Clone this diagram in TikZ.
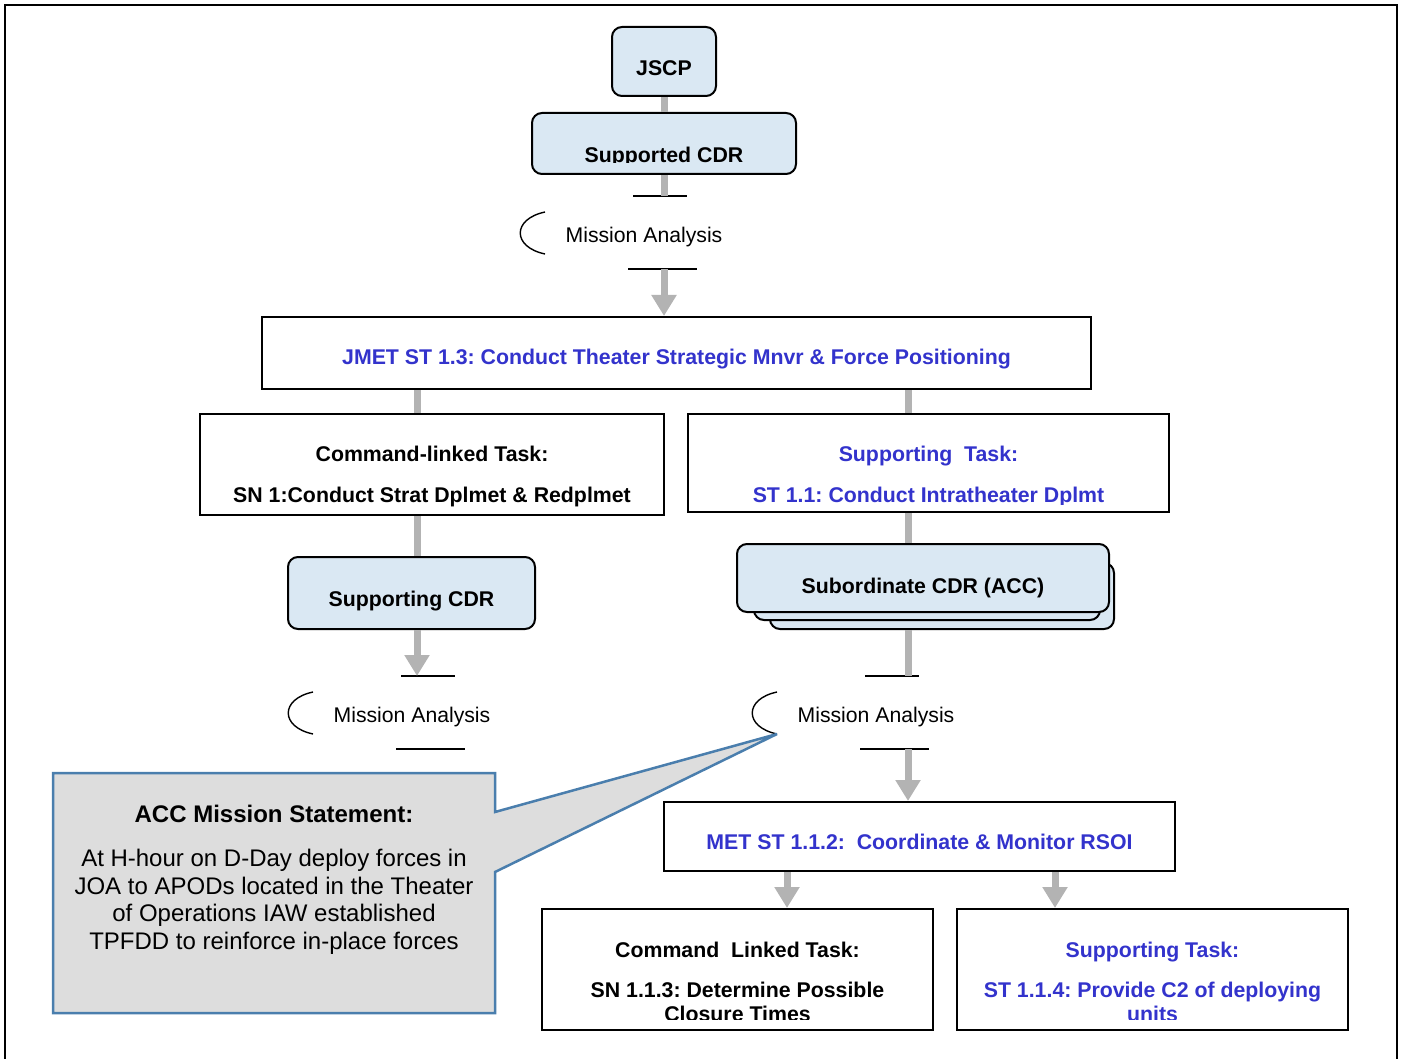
\documentclass[tikz,border=0pt]{standalone}
\usepackage{fontspec}
\setmainfont{Liberation Sans}
\usetikzlibrary{arrows.meta}
\definecolor{tblue}{RGB}{51,51,204}
\definecolor{cfill}{RGB}{218,232,243}
\definecolor{gline}{RGB}{179,179,179}
\definecolor{cborder}{RGB}{74,126,173}
\definecolor{cgray}{RGB}{221,221,221}
\frenchspacing
\begin{document}
\begin{tikzpicture}[x=1pt,y=-1pt,
  taskbox/.style={draw=black, line width=2pt, fill=white, inner sep=0pt},
  cdrbox/.style={draw=black, line width=2pt, fill=cfill, rounded corners=10pt, inner sep=0pt},
  conn/.style={draw=gline, line width=7pt},
  arr/.style={draw=gline, line width=7pt, -{Triangle[width=24pt,length=21pt]}},
  btxt/.style={font=\fontsize{21.3}{25}\selectfont\bfseries, inner sep=0pt, anchor=base},
  rtxt/.style={font=\fontsize{21.2}{25}\selectfont, inner sep=0pt, anchor=base},
  ctxt/.style={font=\fontsize{24}{28}\selectfont, inner sep=0pt, anchor=base},
  mission/.pic={
    \node[rtxt] (-t) at (0,7.5) {Mission Analysis};
    \coordinate (-top) at (0,-39);
    \coordinate (-bot) at (0,34);
    \coordinate (-tip) at (-99,19);
    \draw[line width=1.4pt] (-99,-23) .. controls (-132,-16) and (-132,12) .. (-tip);
    \draw[line width=1.6pt] (-11,-39) -- (43,-39);
    \draw[line width=1.6pt] (-16,34) -- (53,34);
  }
]
\useasboundingbox (0,0) rectangle (1403,1059);
% outer frame
\draw[line width=2.5pt] (5,1059) -- (5,5) -- (1397,5) -- (1397,1059);

% column coordinates
\coordinate (lc) at (417,0);
\coordinate (rc) at (908,0);
\coordinate (blc) at (787,0);
\coordinate (brc) at (1055,0);

% boxes
\node[cdrbox, minimum width=104pt, minimum height=69pt] (jscp) at (664,61.5) {};
\node[cdrbox, minimum width=264pt, minimum height=61pt] (scdr) at (664,143.5) {};
\pic (ma1) at (644,235) {mission};
\node[taskbox, minimum width=829pt, minimum height=72pt] (jmet) at (676.5,353) {};
\node[taskbox, minimum width=464pt, minimum height=101pt] (cmd) at (432,464.5) {};
\node[taskbox, minimum width=481pt, minimum height=98pt] (sup) at (928.5,463) {};
\node[cdrbox, minimum width=247pt, minimum height=72pt] (spcdr) at (411.5,593) {};
\node[cdrbox, minimum width=344pt, minimum height=66pt] (sub3) at (942,596) {};
\node[cdrbox, minimum width=346pt, minimum height=65pt] (sub2) at (927,587.5) {};
\node[cdrbox, minimum width=372pt, minimum height=68pt] (sub1) at (923,578) {};
\pic (mal) at (412,715) {mission};
\pic (mar) at (876,715) {mission};
\node[taskbox, minimum width=511pt, minimum height=69pt] (met) at (919.5,836.5) {};
\node[taskbox, minimum width=391pt, minimum height=121pt] (bl) at (737.5,969.5) {};
\node[taskbox, minimum width=391pt, minimum height=121pt] (br) at (1152.5,969.5) {};

% connectors
\draw[conn] (jscp.south) -- (scdr.north);
\draw[conn] (scdr.south) -- (scdr.south |- ma1-top);
\draw[arr] (scdr.south |- ma1-bot) -- (scdr.south |- jmet.north);
\draw[conn] (jmet.south -| lc) -- (cmd.north -| lc);
\draw[conn] (jmet.south -| rc) -- (sup.north -| rc);
\draw[conn] (cmd.south -| lc) -- (spcdr.north -| lc);
\draw[arr] (spcdr.south -| lc) -- (mal-top -| lc);
\draw[conn] (sup.south -| rc) -- (sub1.north -| rc);
\draw[conn] (sub3.south -| rc) -- (mar-top -| rc);
\draw[arr] (mar-bot -| rc) -- (met.north -| rc);
\draw[arr] (met.south -| blc) -- (bl.north -| blc);
\draw[arr] (met.south -| brc) -- (br.north -| brc);

% texts
\node[btxt] (jscp-t) at (664,75.5) {JSCP};
\begin{scope}
  \clip (532,113) rectangle (796,162.5);
  \node[btxt] (scdr-t) at (664,163) {Supported CDR};
\end{scope}
\node[btxt, text=tblue] (jmet-t) at (676.5,364.5) {JMET ST 1.3: Conduct Theater Strategic Mnvr \& Force Positioning};
\node[btxt] (cmd-t1) at (432,461.5) {Command-linked Task:};
\node[btxt] (cmd-t2) at (432,502.5) {SN 1:Conduct Strat Dplmet \& Redplmet};
\node[btxt, text=tblue] (sup-t1) at (928.5,461.5) {Supporting\ \ Task:};
\begin{scope}
  \clip (688,414) rectangle (1169,504);
  \node[btxt, text=tblue] (sup-t2) at (928.5,502.5) {ST 1.1: Conduct Intratheater Dplmt};
\end{scope}
\node[btxt] (spcdr-t) at (411.5,606.5) {Supporting CDR};
\node[btxt] (sub-t) at (923,593.5) {Subordinate CDR (ACC)};
\node[btxt, text=tblue] (met-t) at (919.5,849.5) {MET ST 1.1.2:\ \ Coordinate \& Monitor RSOI};
\node[btxt] (bl-t1) at (737.5,957.5) {Command\ \ Linked Task:};
\node[btxt, text=tblue] (br-t1) at (1152.5,957.5) {Supporting Task:};
\begin{scope}
  \clip (542,909) rectangle (1348,1019.5);
  \node[btxt] (bl-t2) at (737.5,997.5) {SN 1.1.3: Determine Possible};
  \node[btxt] (bl-t3) at (737.5,1021.5) {Closure Times};
  \node[btxt, text=tblue] (br-t2) at (1152.5,997.5) {ST 1.1.4: Provide C2 of deploying};
  \node[btxt, text=tblue] (br-t3) at (1152.5,1021.5) {units};
\end{scope}

% callout
\draw[draw=cborder, fill=cgray, line width=2.5pt, line join=miter]
  (53,773) -- (495,773) -- (495,812) -- (mar-tip) -- (495,872) -- (495,1013) -- (53,1013) -- cycle;
\node[ctxt, font=\fontsize{24}{28}\selectfont\bfseries] (cl0) at (274,822.5) {ACC Mission Statement:};
\node[ctxt] (cl1) at (274,866.5) {At H-hour on D-Day deploy forces in};
\node[ctxt] (cl2) at (274,894.5) {JOA to APODs located in the Theater};
\node[ctxt] (cl3) at (274,921.5) {of Operations IAW established};
\node[ctxt] (cl4) at (274,949.5) {TPFDD to reinforce in-place forces};
\end{tikzpicture}
\end{document}
